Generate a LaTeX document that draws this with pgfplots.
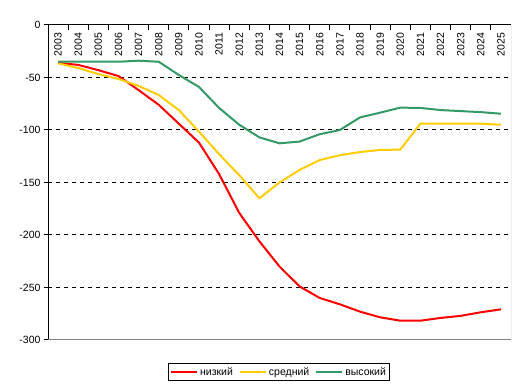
\documentclass[border=0pt]{standalone}
\usepackage{pgfplots}
\pgfplotsset{compat=1.18}
\usepackage{fontspec}
\setmainfont{Liberation Sans}
\definecolor{cred}{RGB}{255,0,0}
\definecolor{cyel}{RGB}{255,204,0}
\definecolor{cgrn}{RGB}{51,153,102}
\begin{document}
\begin{tikzpicture}
\path[use as bounding box] (0,0) rectangle (526bp,391bp);
\begin{axis}[
  at={(48bp,51bp)}, anchor=south west,
  scale only axis, width=463bp, height=315bp,
  xmin=-0.5, xmax=22.5, ymin=-300, ymax=0,
  axis x line*=top, axis y line*=left,
  axis line style={black, line width=1bp, -},
  xtick={0,...,22},
  xticklabels={2003,2004,2005,2006,2007,2008,2009,2010,2011,2012,2013,2014,2015,2016,2017,2018,2019,2020,2021,2022,2023,2024,2025},
  minor x tick num=1,
  xtick align=inside, ytick align=outside,
  major x tick style={draw=none},
  minor x tick style={black, line width=1bp},
  minor tick length=5bp, major tick length=4bp,
  ytick={-300,-250,...,0},
  ytick style={black, line width=1bp},
  xticklabel pos=upper,
  xticklabel style={rotate=90, anchor=east},
  xticklabel shift=-4.5bp,
  ymajorgrids, grid style={black, line width=1bp, dash pattern=on 4bp off 4bp},
  tick label style={font=\fontsize{10.5bp}{12bp}\selectfont},
  /pgf/number format/assume math mode=true,
  legend style={at={(axis description cs:0.499,-0.1016)}, anchor=center, draw=black, line width=1bp,
    font=\fontsize{10.5bp}{12bp}\selectfont, legend columns=3,
    /tikz/every even column/.append style={column sep=4bp}, inner sep=2bp},
  legend image post style={line width=2bp},
  legend image code/.code={\draw[#1] (0cm,0cm) -- (26bp,0cm);},
]
\addplot[cred, line width=2bp] coordinates {(0,-36) (1,-38) (2,-43) (3,-48.6) (4,-62) (5,-76) (6,-94) (7,-112) (8,-142) (9,-179) (10,-206) (11,-230) (12,-249) (13,-260) (14,-266) (15,-273) (16,-278.4) (17,-281.6) (18,-281.6) (19,-279) (20,-277) (21,-273.6) (22,-270.8)};
\addlegendentry{низкий}
\addplot[cyel, line width=2bp] coordinates {(0,-36.5) (1,-41) (2,-46.7) (3,-51.4) (4,-58) (5,-66.7) (6,-81) (7,-101.6) (8,-123) (9,-143) (10,-165) (11,-150) (12,-138) (13,-128.6) (14,-124) (15,-121) (16,-119) (17,-118.7) (18,-94) (19,-94) (20,-94) (21,-94) (22,-95)};
\addlegendentry{средний}
\addplot[cgrn, line width=2bp] coordinates {(0,-35) (1,-35) (2,-35) (3,-35) (4,-34) (5,-35) (6,-47.6) (7,-59) (8,-79) (9,-95) (10,-107) (11,-112.7) (12,-111) (13,-104) (14,-100) (15,-88) (16,-83.5) (17,-78.7) (18,-79) (19,-81) (20,-82) (21,-83) (22,-84.5)};
\addlegendentry{высокий}
\draw[gray, line width=1bp] (rel axis cs:0,0) -- (rel axis cs:1,0) -- (rel axis cs:1,1);
\end{axis}
\end{tikzpicture}
\end{document}
